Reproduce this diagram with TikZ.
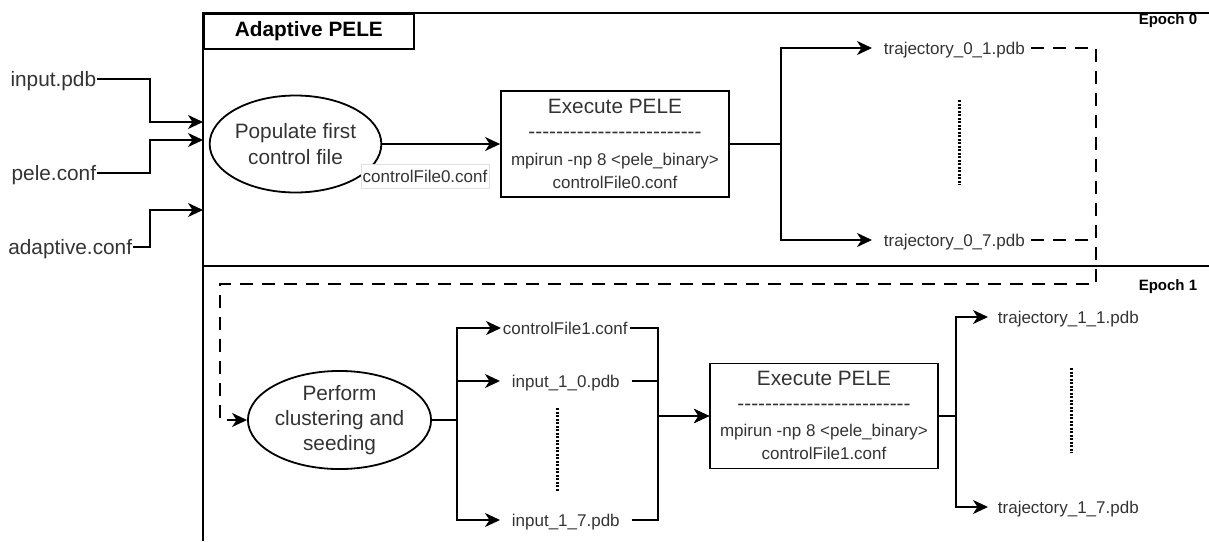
\documentclass[tikz,border=0pt]{standalone}
\usepackage{fontspec}
\setmainfont{Liberation Sans}
\usetikzlibrary{arrows.meta,shapes.geometric,calc}
\definecolor{txtc}{HTML}{333333}
\newcommand\dashrow{-{}-{}-{}-{}-{}-{}-{}-{}-{}-{}-{}-{}-{}-{}-{}-{}-{}-{}-{}-{}-{}-{}-{}-{}-{}}
\begin{document}
\begin{tikzpicture}[x=1pt,y=-1pt,
  line width=1.8pt,
  >={Stealth[length=15pt,width=14pt,inset=4.5pt]},
  bigt/.style={font=\fontsize{20.8}{26}\selectfont, inner sep=0pt, text height=15pt, text depth=0pt, text=txtc},
  medt/.style={font=\fontsize{17}{20}\selectfont, inner sep=0pt, text height=12.2pt, text depth=0pt, text=txtc},
  ellbox/.style={ellipse, draw, inner sep=0pt, align=center, text=txtc, font=\fontsize{20.8}{26}\selectfont},
  execbox/.style={draw, minimum width=228pt, minimum height=106pt, inner sep=0pt},
  dashedline/.style={dash pattern=on 13pt off 9pt},
  dotline/.style={line width=3pt, dash pattern=on 2pt off 1.5pt},
  epoch/.style={font=\bfseries\fontsize{15}{18}\selectfont, inner sep=0pt, text height=10.8pt, text depth=0pt, anchor=east}
]
\useasboundingbox (0,0) rectangle (1209,541);

% frame
\draw (1209,13) -- (203,13) -- (203,541);
\draw (203,266) -- (1209,266);
\node[draw, anchor=north west, minimum width=210pt, minimum height=35pt, inner sep=0pt,
      font=\bfseries\fontsize{20.8}{24}\selectfont] (title) at (203,13) {Adaptive PELE};
\node[epoch] (ep0) at (1198,18.7) {Epoch 0};
\node[epoch] (ep1) at (1198,285) {Epoch 1};

% inputs
\coordinate (jx) at (150,0);
\coordinate (e0a) at (203,122);
\coordinate (e0b) at (203,140);
\coordinate (e0c) at (203,210);
\node[bigt, anchor=east] (inpdb) at (97,79) {input.pdb};
\node[bigt, anchor=east] (peleconf) at (97,173) {pele.conf};
\node[bigt, anchor=east] (adconf) at (133,247) {adaptive.conf};
\draw[->] (inpdb.east) -- (inpdb.east -| jx) |- (e0a);
\draw[->] (peleconf.east) -- (peleconf.east -| jx) |- (e0b);
\draw[->] (adconf.east) -- (adconf.east -| jx) |- (e0c);

% epoch 0
\node[ellbox, minimum width=150pt, minimum height=97pt] (pop) at (295.5,144) {Populate first\\control file};
\node[execbox] (ex0) at (615,144) {};
\draw[->] (pop.east) -- (ex0.west);
\node[medt, draw=gray!25, line width=0.6pt, fill=white, inner xsep=1.5pt, minimum height=24pt] (cf0lbl) at (425,176) {controlFile0.conf};
\node[bigt, anchor=base] (ex0a) at ($(ex0.north)+(0,23)$) {Execute PELE};
\node[bigt, anchor=base] (ex0b) at ($(ex0.north)+(0,48)$) {\dashrow};
\node[medt, anchor=base] (ex0c) at ($(ex0.north)+(0,75)$) {mpirun -np 8 <pele\_binary>};
\node[medt, anchor=base] (ex0d) at ($(ex0.north)+(0,98.5)$) {controlFile0.conf};

\coordinate (br0) at (781,144);
\node[medt, anchor=west] (t01) at (883,48) {trajectory\_0\_1.pdb};
\node[medt, anchor=west] (t07) at (883,240) {trajectory\_0\_7.pdb};
\draw[->] (ex0.east) -- (br0) |- ([xshift=-11pt]t01.west);
\draw[->] (ex0.east) -- (br0) |- ([xshift=-11pt]t07.west);
\draw[dotline] (959,100) -- (959,185);

% epoch 1
\node[ellbox, minimum width=148pt, minimum height=97pt, font=\fontsize{20.8}{25}\selectfont] (pop2) at (339.5,420) {Perform\\clustering and\\seeding};

\coordinate (dc1) at (1096,48);
\coordinate (dc2) at (1096,284);
\coordinate (dc3) at (220,284);
\coordinate (dc4) at (220,420);
\coordinate (dc5) at (1096,240);
\draw[->, dashedline] ([xshift=5pt]t01.east) -- (dc1) -- (dc2) -- (dc3) -- (dc4) -- (pop2.west);
\draw[dashedline] ([xshift=5pt]t07.east) -- (dc5);

\coordinate (br1) at (457,420);
\node[medt, anchor=west] (cf1) at (502,328) {controlFile1.conf};
\node[medt, anchor=west] (i10) at (511,381) {input\_1\_0.pdb};
\node[medt, anchor=west] (i17) at (511,520) {input\_1\_7.pdb};
\draw[->] (pop2.east) -- (br1) |- ([xshift=-1pt]cf1.west);
\draw[->] (pop2.east) -- (br1) |- ([xshift=-11pt]i10.west);
\draw[->] (pop2.east) -- (br1) |- ([xshift=-11pt]i17.west);
\draw[dotline] (557,408) -- (557,492);

\node[execbox, minimum height=105pt] (ex1) at (824,416) {};
\coordinate (mg1) at (658,416);
\draw[->] ([xshift=1pt]cf1.east) -| (mg1) -- (ex1.west);
\draw[->] ([xshift=11pt]i10.east) -| (mg1) -- (ex1.west);
\draw[->] ([xshift=11pt]i17.east) -| (mg1) -- (ex1.west);
\node[bigt, anchor=base] (ex1a) at ($(ex1.north)+(0,23)$) {Execute PELE};
\node[bigt, anchor=base] (ex1b) at ($(ex1.north)+(0,48)$) {\dashrow};
\node[medt, anchor=base] (ex1c) at ($(ex1.north)+(0,74)$) {mpirun -np 8 <pele\_binary>};
\node[medt, anchor=base] (ex1d) at ($(ex1.north)+(0,97)$) {controlFile1.conf};

\coordinate (br2) at (956,416);
\node[medt, anchor=west] (t11) at (997,317) {trajectory\_1\_1.pdb};
\node[medt, anchor=west] (t17) at (997,507) {trajectory\_1\_7.pdb};
\draw[->] (ex1.east) -- (br2) |- ([xshift=-9pt]t11.west);
\draw[->] (ex1.east) -- (br2) |- ([xshift=-9pt]t17.west);
\draw[dotline] (1071,368) -- (1071,453);
\end{tikzpicture}
\end{document}
